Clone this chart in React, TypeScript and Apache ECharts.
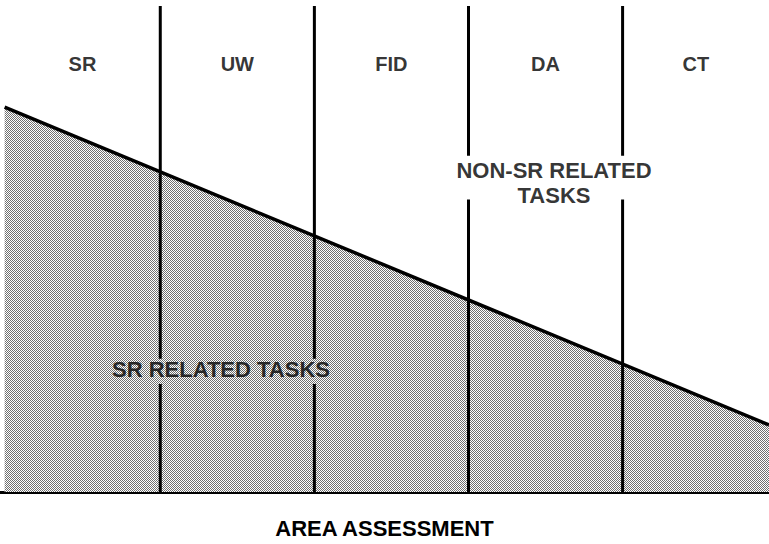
import React, { useEffect, useRef } from "react";
import * as echarts from "echarts";

// Section names along the top
const sections = ["SR", "UW", "FID", "DA", "CT"];
// Section edges (x in "area" units)
const edges = [0, 1.01, 2.01, 3.01, 4.01, 4.96];
// SR-related share of tasks at start and end of the assessment (0–100 scale)
const srShareX = [0, 4.96];
const srShareY = [79.2, 13.8];
// Gaps in the divider lines where the annotations sit [lowY, highY]
const dividerGaps = [
  [22.2, 27.4],
  [22.2, 27.4],
  [60.2, 69.2],
  [60.2, 69.2],
];
const sectionLabelY = 88;
const annotations = [
  { name: "SR RELATED TASKS", x: 1.404, y: 25.2 },
  { name: "NON-SR RELATED\nTASKS", x: 3.565, y: 63.6 },
];
const xTitle = "AREA ASSESSMENT";

const FONT = "'Liberation Sans', Arial, Helvetica, sans-serif";

export default function App() {
  const ref = useRef<HTMLDivElement>(null);
  useEffect(() => {
    if (!ref.current) return;
    document.body.style.margin = "0";
    const chart = echarts.init(ref.current, null, { renderer: "svg" });

    const cv = document.createElement("canvas");
    cv.width = 2;
    cv.height = 2;
    const ctx = cv.getContext("2d")!;
    ctx.fillStyle = "#ffffff";
    ctx.fillRect(0, 0, 2, 2);
    ctx.fillStyle = "#707070";
    ctx.fillRect(0, 0, 1, 1);
    ctx.fillRect(1, 1, 1, 1);

    const dividerData: any[] = [];
    edges.slice(1, -1).forEach((x, i) => {
      const [g0, g1] = dividerGaps[i];
      dividerData.push([x, 0], [x, g0], [x, "-"], [x, g1], [x, 100], [x, "-"]);
    });

    const centers = sections.map((s, i) => ({
      name: s,
      value: [(edges[i] + edges[i + 1]) / 2, sectionLabelY],
    }));

    chart.setOption({
      animation: false,
      grid: { left: 0, right: 0, top: 6, bottom: 38 },
      xAxis: {
        type: "value",
        min: -0.03,
        max: 4.96,
        name: xTitle,
        nameLocation: "middle",
        nameGap: 25,
        nameTextStyle: {
          fontFamily: FONT,
          fontWeight: "bold",
          fontSize: 22,
          color: "#000",
        },
        axisLine: { show: true, lineStyle: { color: "#000", width: 3 } },
        axisTick: { show: false },
        axisLabel: { show: false },
        splitLine: { show: false },
      },
      yAxis: {
        type: "value",
        min: 0,
        max: 100,
        show: false,
        splitLine: { show: false },
      },
      series: [
        {
          type: "line",
          data: srShareX.map((x, i) => [x, srShareY[i]]),
          symbol: "none",
          lineStyle: { color: "#000", width: 3.5 },
          areaStyle: {
            color: { image: cv, repeat: "repeat" },
            opacity: 1,
          },
          z: 2,
        },
        {
          type: "line",
          data: dividerData,
          symbol: "none",
          connectNulls: false,
          lineStyle: { color: "#000", width: 3 },
          z: 3,
        },
        {
          type: "scatter",
          data: centers,
          symbolSize: 0,
          label: {
            show: true,
            position: "inside",
            formatter: "{b}",
            fontFamily: FONT,
            fontWeight: "bold",
            fontSize: 20,
            color: "#000",
          },
          z: 4,
        },
        {
          type: "scatter",
          data: annotations.map((a) => ({ name: a.name, value: [a.x, a.y] })),
          symbolSize: 0,
          label: {
            show: true,
            position: "inside",
            formatter: "{b}",
            fontFamily: FONT,
            fontWeight: "bold",
            fontSize: 22,
            lineHeight: 25,
            align: "center",
            color: "#000",
          },
          z: 4,
        },
      ],
    });
    return () => chart.dispose();
  }, []);
  return (
    <div
      ref={ref}
      style={{ position: "absolute", left: 0, top: 0, width: 769, height: 544 }}
    />
  );
}
